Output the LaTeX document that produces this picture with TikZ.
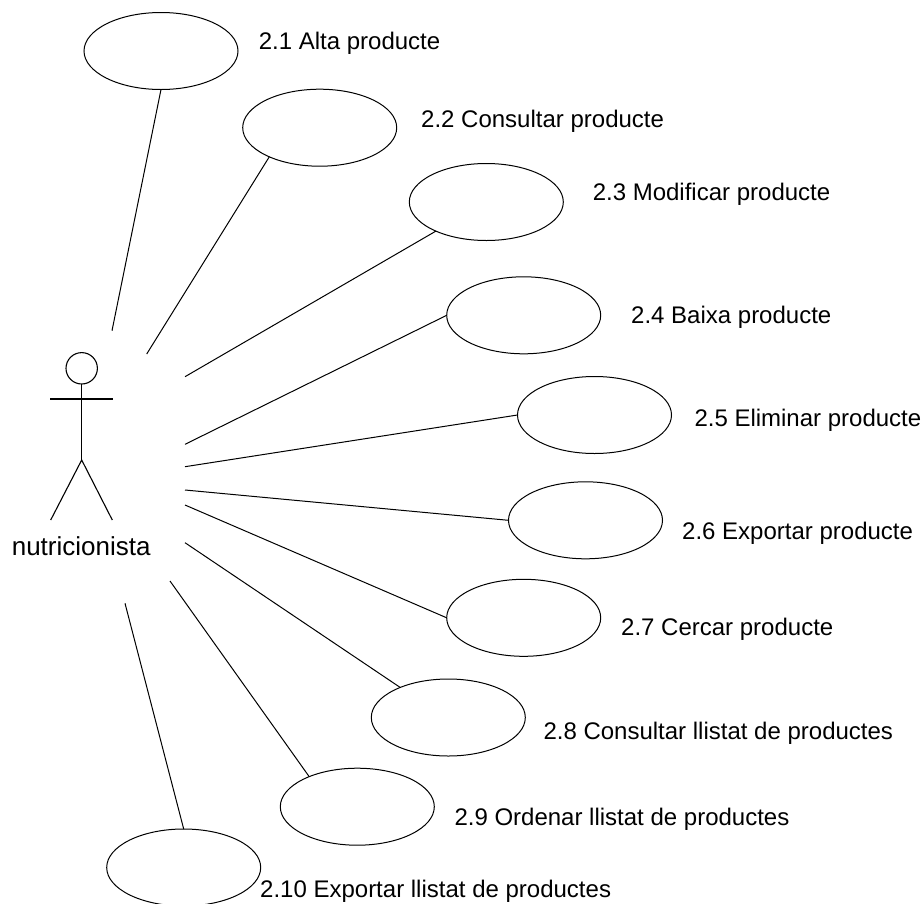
\documentclass[tikz,border=0pt]{standalone}
\usepackage{fontspec}
\setmainfont{Liberation Sans}
\usetikzlibrary{shapes.geometric}
\tikzset{
  uc/.style={draw, ellipse, minimum width=154pt, minimum height=77pt, inner sep=0pt, outer sep=0pt},
  uclabel/.style={anchor=base west, inner sep=0pt, font=\fontsize{24}{28}\selectfont},
  assoc/.style={draw, line width=1pt},
  actorline/.style={line width=1.1pt}
}
\begin{document}
\begin{tikzpicture}[x=1pt, y=-1pt, line width=1pt]
\useasboundingbox (0,0) rectangle (924,903);
% actor
\draw[actorline] (81.7,368.3) circle (15.7pt);
\draw[actorline] (81.7,384) -- (81.7,460);
\draw[actorline] (50,399) -- (112.7,399);
\draw[actorline] (50.7,520) -- (81.7,460) -- (112.3,520);
\node[anchor=base, inner sep=0pt, font=\fontsize{26}{30}\selectfont] (actor) at (81.2,555) {nutricionista};
% use cases
\node[uc] (e1) at (161,51) {};
\node[uc] (e2) at (319.7,127.7) {};
\node[uc] (e3) at (486.3,202) {};
\node[uc] (e4) at (523.7,315.3) {};
\node[uc] (e5) at (594.5,415) {};
\node[uc] (e6) at (585.5,520.3) {};
\node[uc] (e7) at (523.7,617.8) {};
\node[uc] (e8) at (448.3,717.5) {};
\node[uc] (e9) at (357.3,806.7) {};
\node[uc] (e10) at (183.7,867.5) {};
% labels
\node[uclabel] (t1) at (258.3,49.3) {2.1 Alta producte};
\node[uclabel] (t2) at (420.7,127.7) {2.2 Consultar producte};
\node[uclabel] (t3) at (592.3,200) {2.3 Modificar producte};
\node[uclabel] (t4) at (630.7,323.3) {2.4 Baixa producte};
\node[uclabel] (t5) at (694,426) {2.5 Eliminar producte};
\node[uclabel] (t6) at (681.7,539.3) {2.6 Exportar producte};
\node[uclabel] (t7) at (620.7,635) {2.7 Cercar producte};
\node[uclabel] (t8) at (543,739.3) {2.8 Consultar llistat de productes};
\node[uclabel] (t9) at (454,825) {2.9 Ordenar llistat de productes};
\node[uclabel] (t10) at (259.7,897) {2.10 Exportar llistat de productes};
% connector start points
\coordinate (a1) at (112,330.7);
\coordinate (a2) at (146.7,354);
\coordinate (a3) at (185,376.7);
\coordinate (a4) at (185,444.3);
\coordinate (a5) at (185,466.7);
\coordinate (a6) at (185,490);
\coordinate (a7) at (185,505);
\coordinate (a8) at (185,542.7);
\coordinate (a9) at (170,581);
\coordinate (a10) at (125,603.3);
% associations
\draw[assoc] (a1) -- (e1.south);
\draw[assoc] (a2) -- (e2.210.5);
\draw[assoc] (a3) -- (e3.210.3);
\draw[assoc] (a4) -- (e4.west);
\draw[assoc] (a5) -- (e5.west);
\draw[assoc] (a6) -- (e6.west);
\draw[assoc] (a7) -- (e7.west);
\draw[assoc] (a8) -- (e8.148.3);
\draw[assoc] (a9) -- (e9.148);
\draw[assoc] (a10) -- (e10.north);
\end{tikzpicture}
\end{document}
